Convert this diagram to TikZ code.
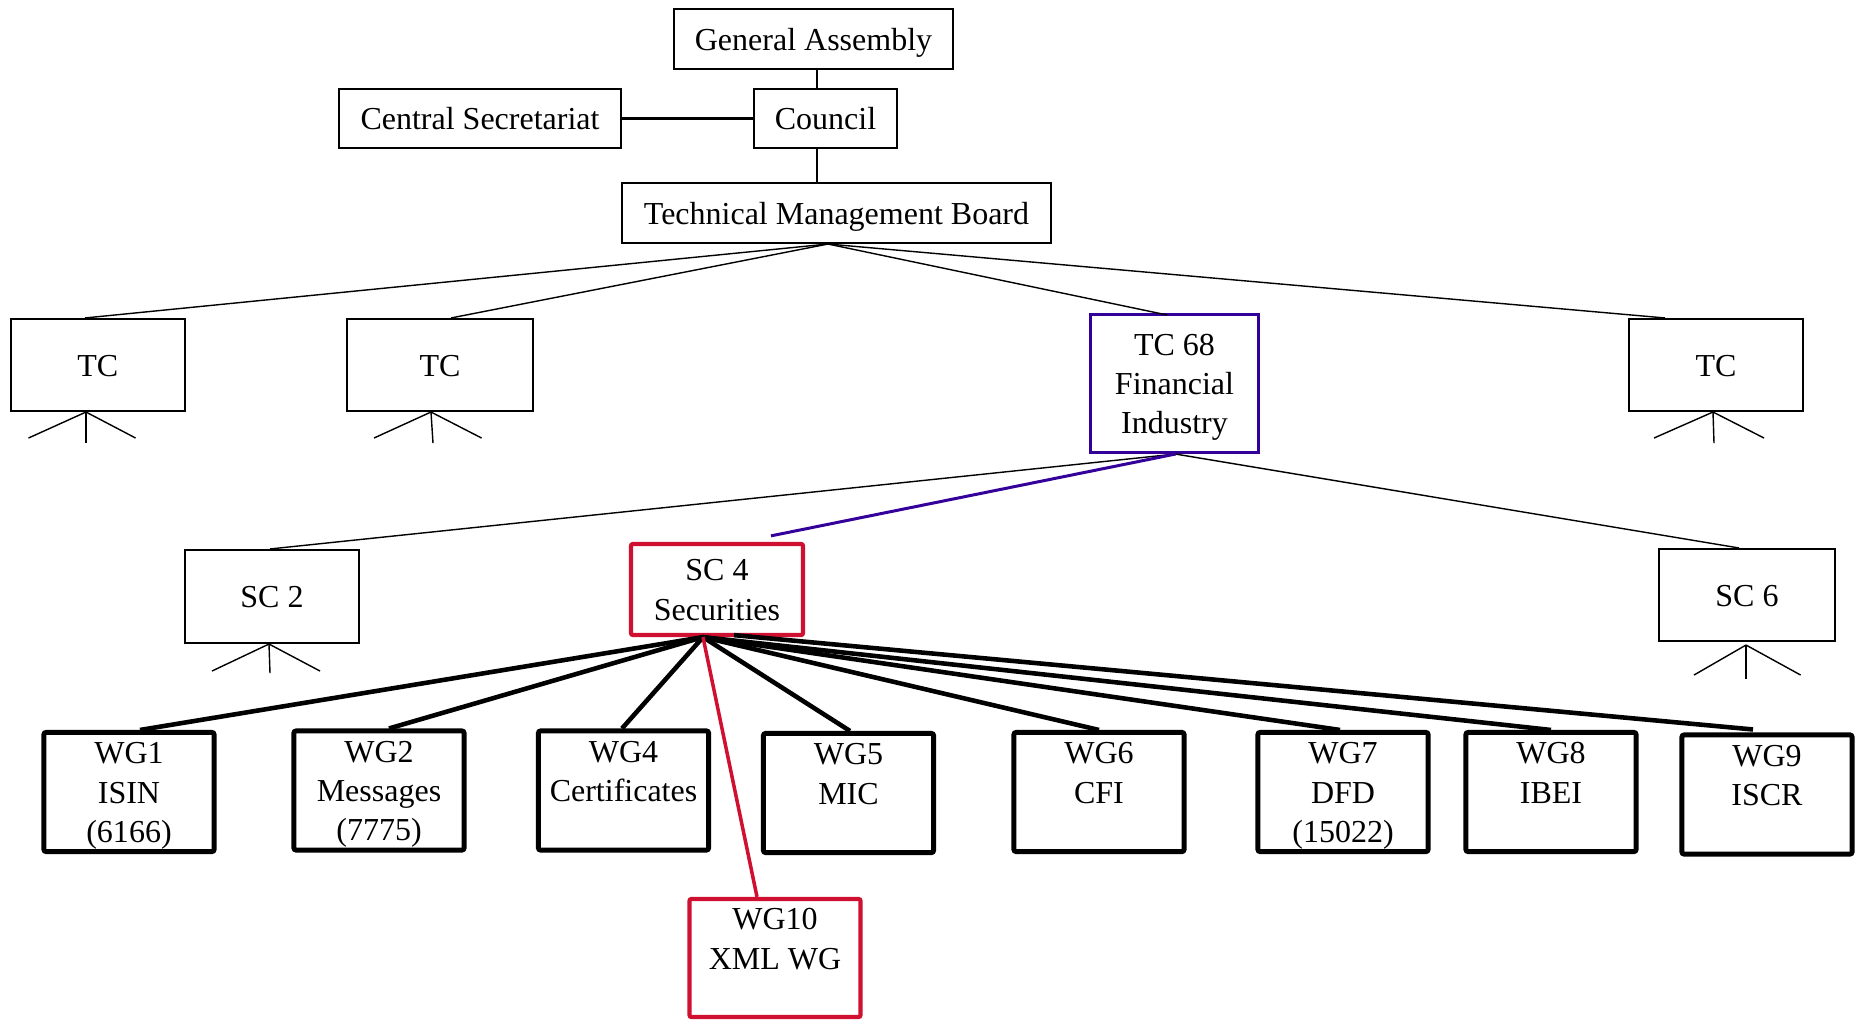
\documentclass[tikz,border=0pt]{standalone}
\usepackage{fontspec}
\setmainfont{Liberation Serif}
\usetikzlibrary{calc}
\definecolor{tcpurple}{RGB}{51,0,153}
\definecolor{scred}{RGB}{208,16,48}
\newcommand\mystrut{\rule[-2.04pt]{0pt}{10.34pt}}
\begin{document}
\begin{tikzpicture}[x=0.01cm,y=-0.01cm,
  box/.style={draw, fill=white, line width=0.57pt, inner sep=0pt, align=center,
    font=\fontsize{9.1}{11.1}\selectfont},
  tcbox/.style={box, line width=0.85pt, draw=tcpurple},
  scbox/.style={box, line width=1.2pt, draw=scred, rounded corners=0.6pt},
  wgbox/.style={box, line width=1.42pt, rounded corners=0.6pt, minimum width=1.70cm, minimum height=1.19cm},
  wgred/.style={wgbox, line width=1.2pt, draw=scred},
  thinline/.style={line width=0.4pt},
  midline/.style={line width=0.57pt},
  thickline/.style={line width=1.3pt},
  purpleline/.style={line width=0.85pt, draw=tcpurple},
  redline/.style={line width=1.0pt, draw=scred}]
\useasboundingbox (0,0) rectangle (1860,1021);

% top level
\node[box, minimum width=2.79cm, minimum height=0.60cm] (ga) at (813.5,39) {\mystrut General Assembly};
\node[box, minimum width=2.82cm, minimum height=0.59cm] (cs) at (480,118.5) {\mystrut Central Secretariat};
\node[box, minimum width=1.43cm, minimum height=0.59cm] (council) at (825.5,118.5) {\mystrut Council};
\node[box, minimum width=4.29cm, minimum height=0.60cm] (tmb) at (836.5,213) {\mystrut Technical Management Board};

% technical committees
\node[box, minimum width=1.74cm, minimum height=0.92cm] (tc1) at (97.75,365) {\mystrut TC};
\node[box, minimum width=1.86cm, minimum height=0.92cm] (tc2) at (440,365) {\mystrut TC};
\node[tcbox, minimum width=1.68cm, minimum height=1.38cm] (tc68) at (1174.5,383.5) {\mystrut TC 68\\\mystrut Financial\\\mystrut Industry};
\node[box, minimum width=1.74cm, minimum height=0.92cm] (tc4) at (1716,365) {\mystrut TC};

% sub committees
\node[box, minimum width=1.74cm, minimum height=0.93cm] (sc2) at (272,596.5) {\mystrut SC 2};
\node[scbox, minimum width=1.72cm, minimum height=0.91cm] (sc4) at (717,589.5) {\mystrut SC 4\\\mystrut Securities};
\node[box, minimum width=1.76cm, minimum height=0.92cm] (sc6) at (1747,595) {\mystrut SC 6};

% working groups
\node[wgbox] (wg1) at (129,792) {\mystrut WG1\\\mystrut ISIN\\\mystrut (6166)};
\node[wgbox] (wg2) at (379,790.5) {\mystrut WG2\\\mystrut Messages\\\mystrut (7775)};
\node[wgbox] (wg4) at (623.5,790.5) {\mystrut WG4\\\mystrut Certificates\\\mystrut};
\node[wgbox] (wg5) at (848.5,793) {\mystrut WG5\\\mystrut MIC\\\mystrut};
\node[wgbox] (wg6) at (1099,792) {\mystrut WG6\\\mystrut CFI\\\mystrut};
\node[wgbox] (wg7) at (1343,792) {\mystrut WG7\\\mystrut DFD\\\mystrut (15022)};
\node[wgbox] (wg8) at (1551,792) {\mystrut WG8\\\mystrut IBEI\\\mystrut};
\node[wgbox] (wg9) at (1767,794.5) {\mystrut WG9\\\mystrut ISCR\\\mystrut};
\node[wgred, minimum width=1.71cm, minimum height=1.18cm] (wg10) at (775,958) {\mystrut WG10\\\mystrut XML WG\\\mystrut};

% top connectors
\draw[thinline] ($(ga.south)+(3.5,0)$) -- ($(council.north)+(-8.5,0)$);
\draw[thinline] ($(council.south)+(-8.5,0)$) -- ($(tmb.north)+(-19.5,0)$);
\draw[midline] (cs.east) -- (council.west);

\coordinate (tmbb) at ($(tmb.south)+(-8.5,0)$);
\draw[thinline] (tmbb) -- ($(tc1.north)+(-12.75,0)$);
\draw[thinline] (tmbb) -- ($(tc2.north)+(11,0)$);
\draw[thinline] (tmbb) -- ($(tc68.north)+(-7.5,2)$);
\draw[thinline] (tmbb) -- ($(tc4.north)+(-51,0)$);

% tripods
\coordinate (tc1b) at ($(tc1.south)+(-11.75,0)$);
\draw[thinline] (tc1b) -- ++(0,31);
\draw[thinline] (tc1b) -- ++(-57.5,26);
\draw[thinline] (tc1b) -- ++(49.6,26);
\coordinate (tc2b) at ($(tc2.south)+(-9,0)$);
\draw[thinline] (tc2b) -- ++(2,31);
\draw[thinline] (tc2b) -- ++(-57,26);
\draw[thinline] (tc2b) -- ++(50.6,26);
\coordinate (tc4b) at ($(tc4.south)+(-3,0)$);
\draw[thinline] (tc4b) -- ++(1,31);
\draw[thinline] (tc4b) -- ++(-59,26);
\draw[thinline] (tc4b) -- ++(51,26);
\coordinate (sc2b) at ($(sc2.south)+(-3,0)$);
\draw[thinline] (sc2b) -- ++(1,29);
\draw[thinline] (sc2b) -- ++(-57,27);
\draw[thinline] (sc2b) -- ++(51,27);
\coordinate (sc6b) at ($(sc6.south)+(-1,3)$);
\draw[thinline] (sc6b) -- ++(0,34);
\draw[thinline] (sc6b) -- ++(-52,30);
\draw[thinline] (sc6b) -- ++(54.6,30);

% TC 68 to sub committees
\coordinate (tc68b) at ($(tc68.south)+(1,0)$);
\draw[thinline] (tc68b) -- ($(sc2.north)+(-2,0)$);
\draw[thinline] (tc68b) -- ($(sc6.north)+(-8,0)$);
\draw[purpleline] (tc68b) -- ($(sc4.north)+(54,-6)$);

% SC 4 to working groups
\coordinate (sc4b) at ($(sc4.south)+(-14,0)$);
\draw[thickline] (sc4b) -- ($(wg1.north)+(11,0)$);
\draw[thickline] (sc4b) -- ($(wg2.north)+(10,0)$);
\draw[thickline] (sc4b) -- ($(wg4.north)+(-1.5,0)$);
\draw[thickline] (sc4b) -- ($(wg5.north)+(1.5,0)$);
\draw[thickline] (sc4b) -- (wg6.north);
\draw[thickline] (sc4b) -- ($(wg7.north)+(-3,0)$);
\draw[thickline] (sc4b) -- (wg8.north);
\draw[thickline] ($(sc4.south)+(17,-2)$) -- ($(wg9.north)+(-14,-3)$);
\draw[redline] (sc4b) -- ($(wg10.north)+(-18,0)$);
\end{tikzpicture}
\end{document}
